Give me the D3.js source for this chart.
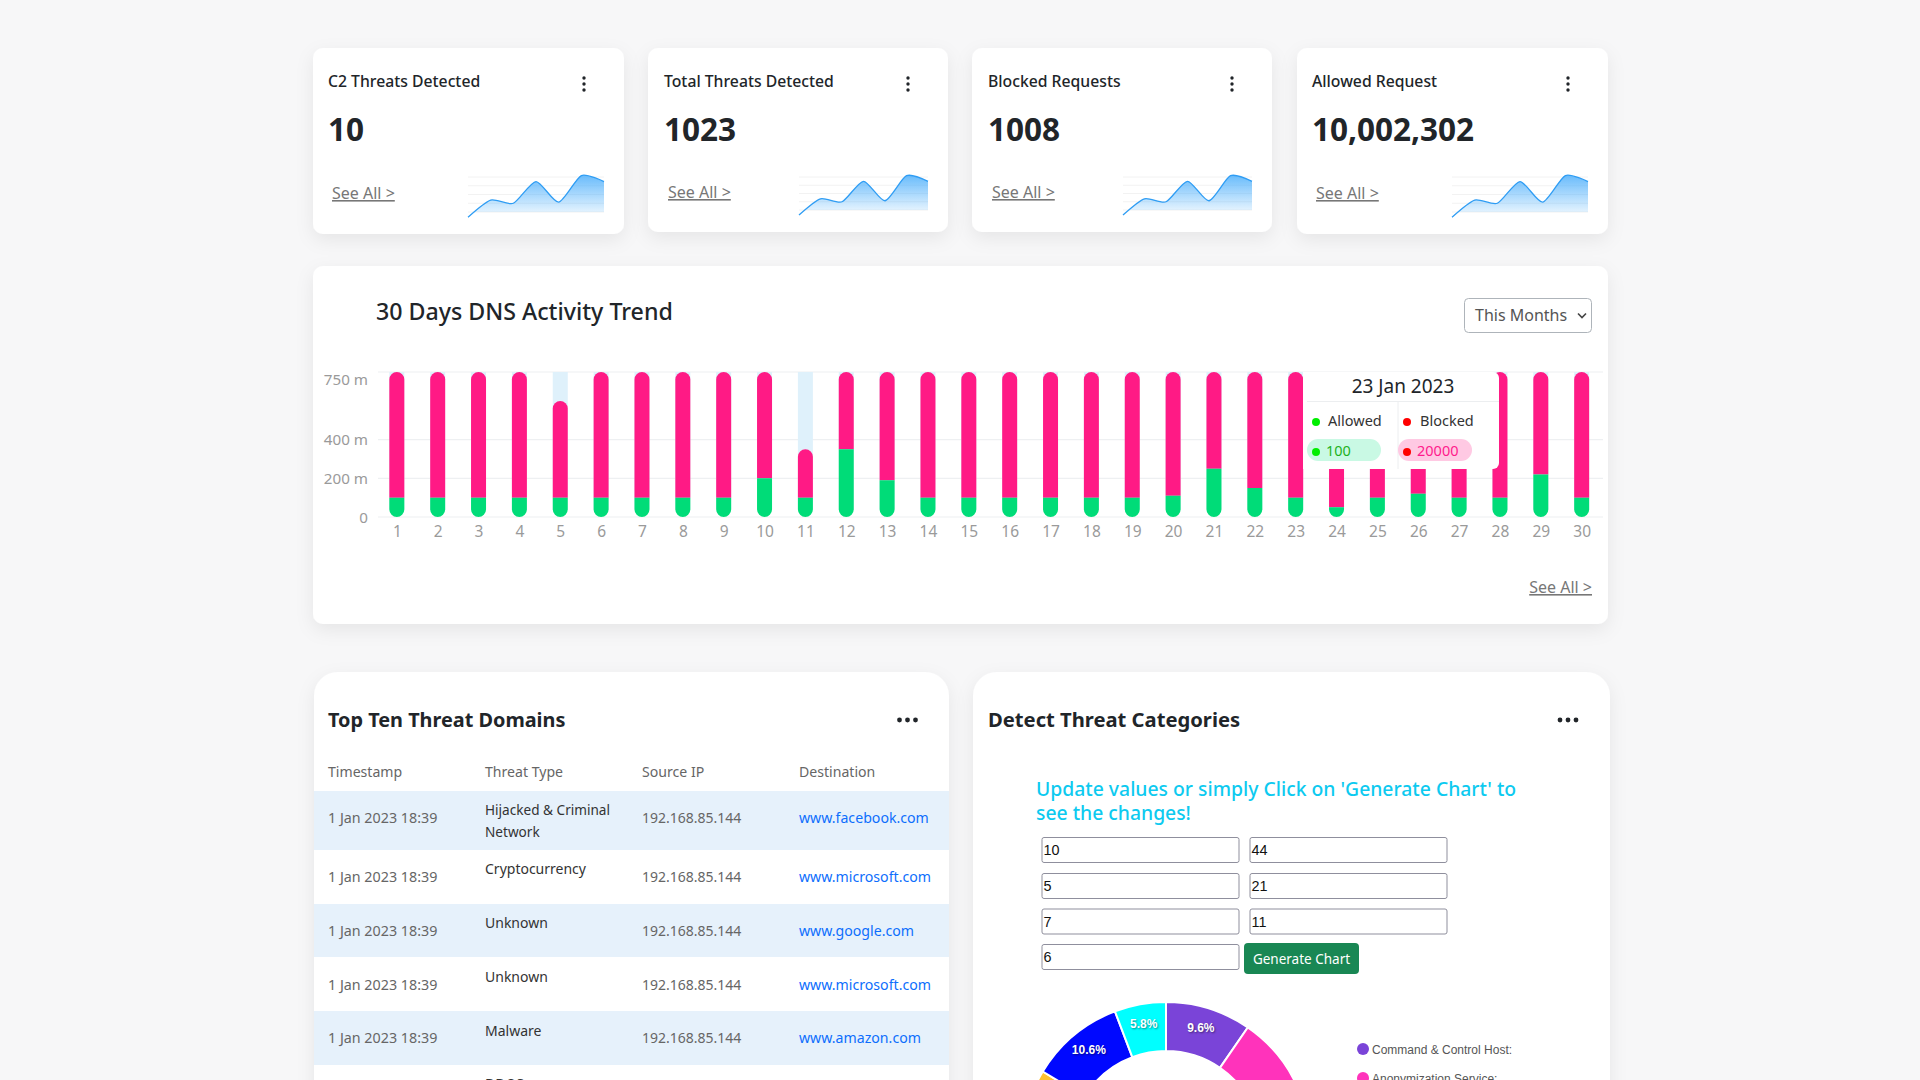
<!DOCTYPE html>
<html><head><meta charset="utf-8">
<script src="https://cdn.jsdelivr.net/npm/d3@7"></script>
<style>
html,body{margin:0;padding:0;background:#f7f7f8;overflow:hidden;width:1920px;height:1080px}
svg{display:block}
text{font-family:"Noto Sans",sans-serif}
.arial{font-family:"Liberation Sans",Arial,sans-serif}
</style></head><body><div id="app"></div>
<script>
// ---------- data ----------
const cardTitles=["C2 Threats Detected","Total Threats Detected","Blocked Requests","Allowed Request"];
const cardValues=["10","1023","1008","10,002,302"];
const sparkValues=[-15,34,25,87,28,104,87];
const days=d3.range(1,31).map(String);
const allowed=[100,100,100,100,100,100,100,100,100,200,100,350,190,100,100,100,100,100,100,110,250,150,100,50,100,120,100,100,220,100];
const blocked=[650,650,650,650,500,650,650,650,650,550,250,400,560,650,650,650,650,650,650,640,500,600,650,700,650,630,650,650,530,650];
const yTicks=[0,200,400,750];
const tableCols=["Timestamp","Threat Type","Source IP","Destination"];
const tableTime=["1 Jan 2023 18:39","1 Jan 2023 18:39","1 Jan 2023 18:39","1 Jan 2023 18:39","1 Jan 2023 18:39"];
const tableThreat=[["Hijacked & Criminal","Network"],["Cryptocurrency"],["Unknown"],["Unknown"],["Malware"],["DDOS"]];
const tableIp=["192.168.85.144","192.168.85.144","192.168.85.144","192.168.85.144","192.168.85.144"];
const tableDest=["www.facebook.com","www.microsoft.com","www.google.com","www.microsoft.com","www.amazon.com"];
const inputsLeft=["10","5","7","6"];
const inputsRight=["44","21","11"];
const pieValues=[10,44,5,21,7,11,6];
const pieColors=["#7a44d8","#ff33bb","#1fd17a","#ff6b35","#ffc233","#0008ff","#00ffff"];
const legendNames=["Command & Control Host:","Anonymization Service:"];

// ---------- helpers ----------
const svg=d3.select("#app").append("svg").attr("width",1920).attr("height",1080);
const defs=svg.append("defs");
const sh=defs.append("filter").attr("id","sh").attr("x","-10%").attr("y","-10%").attr("width","120%").attr("height","130%");
sh.append("feDropShadow").attr("dx",0).attr("dy",6).attr("stdDeviation",9).attr("flood-color","#000").attr("flood-opacity",0.07);
const g=defs.append("linearGradient").attr("id","sparkFill").attr("x1",0).attr("x2",0).attr("y1",0).attr("y2",1);
g.append("stop").attr("offset","0%").attr("stop-color","#4fb0fb").attr("stop-opacity",.85);
g.append("stop").attr("offset","100%").attr("stop-color","#4fb0fb").attr("stop-opacity",.06);
const txt=(sel,x,y,s,o={})=>sel.append("text").attr("x",x).attr("y",y).text(s)
  .attr("font-size",o.size||14).attr("font-weight",o.w||400).attr("fill",o.c||"#212529")
  .attr("text-anchor",o.a||"start").attr("class",o.cls||null);
const panel=(x,y,w,h,r)=>svg.append("rect").attr("x",x).attr("y",y).attr("width",w).attr("height",h).attr("rx",r).attr("fill","#fff").attr("filter","url(#sh)");

// ---------- KPI cards ----------
const cardGeo=[{x:313,w:311,h:186,sx:468,sw:136,sy:212,sh:35,tx:328},{x:648,w:300,h:184,sx:799,sw:129,sy:210,sh:33,tx:664},{x:972,w:300,h:184,sx:1123,sw:129,sy:210,sh:33,tx:988},{x:1297,w:311,h:186,sx:1452,sw:136,sy:212,sh:35,tx:1312}];
cardTitles.forEach((t,i)=>{
  const c=cardGeo[i];
  panel(c.x,48,c.w,c.h,10);
  txt(svg,c.tx,87,t,{size:15.75,w:500});
  txt(svg,c.tx,141,cardValues[i],{size:31.5,w:700});
  const kx=c.x+c.w-40;
  [78,84,90].forEach(y=>svg.append("circle").attr("cx",kx).attr("cy",y).attr("r",1.7).attr("fill","#212529"));
  txt(svg,c.tx+4,199-(c.h<186?1:0),"See All >",{size:16,c:"#777"}).attr("text-decoration","underline");
  const x=d3.scalePoint().domain(d3.range(sparkValues.length)).range([c.sx,c.sx+c.sw]);
  const y=d3.scaleLinear().domain([0,100]).range([c.sy,c.sy-c.sh]);
  [0,25,50,75,100].forEach(v=>svg.append("line").attr("x1",c.sx).attr("x2",c.sx+c.sw).attr("y1",y(v)).attr("y2",y(v)).attr("stroke","#f2f2f2"));
  const clipId="cl"+i;
  defs.append("clipPath").attr("id",clipId).append("rect").attr("x",c.sx).attr("width",c.sw).attr("y",c.sy-c.sh-6).attr("height",c.sh+6);
  svg.append("path").datum(sparkValues).attr("clip-path",`url(#${clipId})`).attr("fill","url(#sparkFill)")
    .attr("d",d3.area().x((d,j)=>x(j)).y0(y(0)).y1(d=>y(d)).curve(d3.curveCardinal.tension(0.3)));
  svg.append("path").datum(sparkValues).attr("fill","none").attr("stroke","#2f9df4").attr("stroke-width",1.3)
    .attr("d",d3.line().x((d,j)=>x(j)).y(d=>y(d)).curve(d3.curveCardinal.tension(0.3)));
});

// ---------- main bar panel ----------
panel(313,266,1295,358,10);
txt(svg,376,320,"30 Days DNS Activity Trend",{size:23.2,w:500});
svg.append("rect").attr("x",1464.5).attr("y",298.5).attr("width",127).attr("height",34).attr("rx",4).attr("fill","#fff").attr("stroke","#aeb4ba");
txt(svg,1475,321,"This Months",{size:16,c:"#555"});
svg.append("path").attr("d","M1578,313.5l4,4l4,-4").attr("fill","none").attr("stroke","#444").attr("stroke-width",1.6);
txt(svg,1592,593,"See All >",{size:16,c:"#777",a:"end"}).attr("text-decoration","underline");

const bx=d3.scaleBand().domain(days).range([376.4,1602.1]).paddingInner(0.633).paddingOuter(0.3165);
const by=d3.scaleLinear().domain([0,750]).range([517,372]);
yTicks.forEach(v=>{
  svg.append("line").attr("x1",378).attr("x2",1603).attr("y1",by(v)).attr("y2",by(v)).attr("stroke","#eef0f2").attr("stroke-width",1.2);
  txt(svg,368,by(v)+5.5+(v===750?7:0),v===0?"0":v+" m",{size:15.2,c:"#9a9a9a",a:"end"});
});
const r=bx.bandwidth()/2;
const bar=svg.append("g");
days.forEach((d,i)=>{
  const x0=bx(d),x1=x0+bx.bandwidth(),base=by(0),mid=by(allowed[i]),top=by(allowed[i]+blocked[i]);
  bar.append("rect").attr("x",x0).attr("width",bx.bandwidth()).attr("y",by(750)).attr("height",base-by(750)-r).attr("fill","#dff1fb");
  bar.append("path").attr("fill","#ff1a85").attr("d",`M${x0},${mid}V${top+r}A${r},${r} 0 0 1 ${x1},${top+r}V${mid}Z`);
  bar.append("path").attr("fill","#00dc78").attr("d",`M${x0},${mid}V${base-r}A${r},${r} 0 0 0 ${x1},${base-r}V${mid}Z`);
  txt(svg,x0+r+0.5,537,d,{size:15.5,c:"#9a9a9a",a:"middle"});
});

// tooltip
svg.append("path").attr("fill","#fff").attr("d","M1303,372H1493a6,6 0 0 1 6,6V463a6,6 0 0 1 -6,6H1303Z");
svg.append("line").attr("x1",1307).attr("x2",1499).attr("y1",401.5).attr("y2",401.5).attr("stroke","#eceef0");
svg.append("line").attr("x1",1398).attr("x2",1398).attr("y1",401).attr("y2",469).attr("stroke","#eceef0");
txt(svg,1403,393,"23 Jan 2023",{size:19,a:"middle"});
[[1316,1328,"Allowed","#00ee00"],[1407,1420,"Blocked","#ff0000"]].forEach(a=>{
  svg.append("circle").attr("cx",a[0]).attr("cy",422).attr("r",4).attr("fill",a[3]);
  txt(svg,a[1],426,a[2],{size:14.5,c:"#333"});
});
[[1307,"#c9f9e4","#00ee00",1316,1326,"100","#1db21d"],[1398,"#ffc9e3","#ff0000",1407,1417,"20000","#ff1a8c"]].forEach(a=>{
  svg.append("rect").attr("x",a[0]).attr("y",439).attr("width",74).attr("height",22).attr("rx",11).attr("fill",a[1]);
  svg.append("circle").attr("cx",a[3]).attr("cy",452).attr("r",4).attr("fill",a[2]);
  txt(svg,a[4],456,a[5],{size:14.5,c:a[6]});
});

// ---------- lower panels ----------
panel(314,672,635,460,24);
panel(973,672,637,460,24);
const dots3=cx=>[-8,0,8].forEach(o=>svg.append("circle").attr("cx",cx+o).attr("cy",720).attr("r",2.4).attr("fill","#212529"));
txt(svg,328,727,"Top Ten Threat Domains",{size:19.85,w:700});
dots3(907.5);
txt(svg,988,727,"Detect Threat Categories",{size:20.2,w:700});
dots3(1568);

const colX=[328,485,642,799];
tableCols.forEach((c,i)=>txt(svg,colX[i],777,c,{size:14.1,c:"#666"}));
const rowY=[791,850,904,957,1011,1065];
const timeY=[823,882,936,990,1043];
const threatY=[874,928,982,1036,1089];
rowY.slice(0,5).forEach((y,i)=>{
  if(i%2===0) svg.append("rect").attr("x",314).attr("width",635).attr("y",y).attr("height",rowY[i+1]-y).attr("fill","#e6f1fb");
  txt(svg,colX[0],timeY[i],tableTime[i],{size:14.3,c:"#666"});
  txt(svg,colX[2],timeY[i],tableIp[i],{size:14,c:"#666"});
  txt(svg,colX[3],timeY[i],tableDest[i],{size:14.15,c:"#0d6efd"});
});
txt(svg,colX[1],815,tableThreat[0][0],{size:13.6,c:"#333"});
txt(svg,colX[1],837,tableThreat[0][1],{size:13.6,c:"#333"});
tableThreat.slice(1).forEach((t,i)=>txt(svg,colX[1],threatY[i],t[0],{size:14,c:"#333"}));

// ---------- form ----------
txt(svg,1036,795.5,"Update values or simply Click on 'Generate Chart' to",{size:19.35,w:500,c:"#0dcaf0"});
txt(svg,1036,820,"see the changes!",{size:19.35,w:500,c:"#0dcaf0"});
const inpY=[837,873,908.5,944];
const input=(x,y,v)=>{
  svg.append("rect").attr("x",x+.5).attr("y",y+.5).attr("width",197).attr("height",25).attr("rx",2).attr("fill","#fff").attr("stroke","#8f8f9d");
  txt(svg,x+2,y+18,v,{size:14.4,c:"#111",cls:"arial"});
};
inputsLeft.forEach((v,i)=>input(1041.5,inpY[i],v));
inputsRight.forEach((v,i)=>input(1249.5,inpY[i],v));
svg.append("rect").attr("x",1244).attr("y",943).attr("width",115).attr("height",31).attr("rx",4).attr("fill","#198754");
txt(svg,1301.5,963.5,"Generate Chart",{size:13.5,c:"#fff",a:"middle"});

// ---------- donut ----------
const pie=d3.pie().sort(null)(pieValues);
const arc=d3.arc().innerRadius(95).outerRadius(144);
const total=d3.sum(pieValues);
const dg=svg.append("g").attr("transform","translate(1166,1146)");
dg.selectAll("path").data(pie).join("path").attr("d",arc).attr("fill",(d,i)=>pieColors[i]).attr("stroke","#fff").attr("stroke-width",2);
dg.selectAll("text").data(pie.filter(d=>arc.centroid(d)[1]<-60)).join("text").attr("class","arial")
  .attr("x",d=>arc.centroid(d)[0]-0.7).attr("y",d=>arc.centroid(d)[1]).attr("text-anchor","middle")
  .attr("font-size",12).attr("font-weight",700).attr("fill","#fff")
  .style("text-shadow","1px 1px 2px rgba(0,0,0,.45)")
  .text(d=>(d.value/total*100).toFixed(1)+"%");
legendNames.forEach((n,i)=>{
  const y=[1049,1078][i];
  svg.append("circle").attr("cx",1363).attr("cy",y).attr("r",6).attr("fill",pieColors[i]);
  txt(svg,1372,y+5,n,{size:12,c:"#555",cls:"arial"});
});
</script></body></html>
